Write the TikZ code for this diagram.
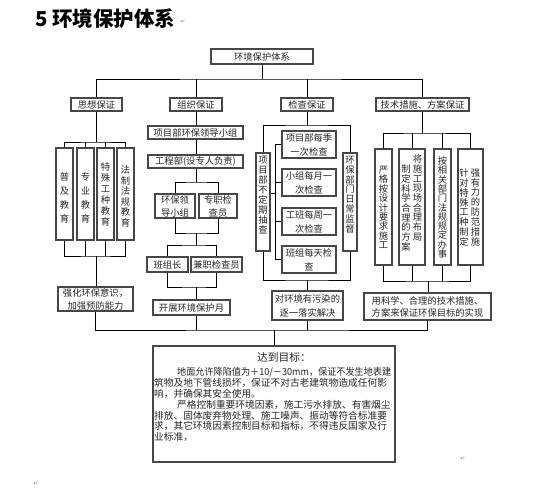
\documentclass[tikz,border=0pt]{standalone}
\usepackage{fontspec}
\usepackage{graphicx}
\setmainfont{Noto Sans CJK SC}
\newfontfamily\djv{DejaVu Sans}
\newcommand\bx[7][]{\node[box,minimum width={(#5-#3)*1pt},minimum height={(#6-#4)*1pt},#1] (#2) at ({(#3+#5)/2},{(#4+#6)/2}) {#7};}
\begin{document}
\begin{tikzpicture}[x=1pt,y=-1pt,
  box/.style={draw=black!72,line width=1.1pt,inner sep=0pt,align=center,text=black!85,font=\fontsize{9.3}{13}\selectfont},
  vt/.style={inner sep=0pt,align=center,text=black!85},
  ln/.style={line width=0.9pt,draw=black},
  pm/.style={inner sep=0pt,text=black!45,font=\djv\fontsize{6}{6}\selectfont}]
\useasboundingbox[fill=white] (0,0) rectangle (559,491);

% title
\node[anchor=base west,inner sep=0pt,font=\fontsize{20.5}{24}\selectfont\bfseries] (title) at (35,26) {5 环境保护体系};
\node[pm] (pm1) at (183,22) {↵};
\node[pm] (pm2) at (36,484) {↵};
\node[pm] (pm3) at (463,459) {↵};

% level 0 / 1
\bx{top}{211}{49}{313}{64}{环境保护体系}
\bx{c1}{71}{98}{122}{111}{思想保证}
\bx{c2}{170}{98}{222}{111}{组织保证}
\bx{c3}{281}{98}{333}{111}{检查保证}
\bx{c4}{376}{98}{469}{111}{技术措施、方案保证}

% column 1
\bx{e1}{56}{148}{73}{240}{}
\bx{e2}{77}{148}{94}{240}{}
\bx{e3}{97}{148}{114}{240}{}
\bx{e4}{117}{148}{134}{240}{}
\node[vt,font=\fontsize{9.3}{14}\selectfont] (e1t) at (64.5,198) {普\\及\\教\\育};
\node[vt,font=\fontsize{9.3}{14}\selectfont] (e2t) at (85.5,198) {专\\业\\教\\育};
\node[vt,font=\fontsize{9.3}{11}\selectfont] (e3t) at (105.5,194.5) {特\\殊\\工\\种\\教\\育};
\node[vt,font=\fontsize{9.3}{10.6}\selectfont] (e4t) at (125.5,196.5) {法\\制\\法\\规\\教\\育};
\bx{s1}{58}{287}{133}{311}{强化环保意识，\\加强预防能力}

% column 2
\bx{g1}{148}{126}{243}{139}{项目部环保领导小组}
\bx{g2}{148}{155}{243}{168}{工程部(设专人负责)}
\bx{h1}{155}{194}{195}{218}{环保领\\导小组}
\bx{h2}{199}{194}{237}{218}{专职检\\查员}
\bx{i1}{147}{257}{188}{272}{班组长}
\bx{i2}{191}{257}{242}{272}{兼职检查员}
\bx{s2}{153}{300}{230}{315}{开展环境保护月}

% column 3
\bx{L}{256}{153}{270}{251}{}
\bx{R}{343}{153}{357}{251}{}
\node[vt,font=\fontsize{9.3}{10}\selectfont] (Lt) at (263,195) {项\\目\\部\\不\\定\\期\\抽\\查};
\node[vt,font=\fontsize{9.3}{9.8}\selectfont] (Rt) at (350,194.5) {环\\保\\部\\门\\日\\常\\监\\督};
\bx[font=\fontsize{9.3}{14}\selectfont]{m1}{282}{131}{336}{158}{项目部每季\\一次检查}
\bx[font=\fontsize{9.3}{14}\selectfont]{m2}{282}{169}{336}{196}{小组每月一\\次检查}
\bx[font=\fontsize{9.3}{14}\selectfont]{m3}{282}{208}{336}{235}{工班每周一\\次检查}
\bx[font=\fontsize{9.3}{14}\selectfont]{m4}{282}{246}{336}{273}{班组每天检\\查}
\bx[font=\fontsize{9.3}{14}\selectfont]{s3}{272}{291}{343}{320}{对环境有污染的\\逐一落实解决}

% column 4
\bx{f1}{375}{149}{392}{265}{}
\bx{f2}{399}{149}{425}{265}{}
\bx{f3}{434}{149}{451}{265}{}
\bx{f4}{458}{149}{483}{265}{}
\node[vt,font=\fontsize{9.3}{9.4}\selectfont] (f1t) at (383.5,207.5) {严\\格\\按\\设\\计\\要\\求\\施\\工};
\node[vt,font=\fontsize{9.3}{9.7}\selectfont] (f2r) at (417.5,198) {将\\施\\工\\现\\场\\合\\理\\布\\局};
\node[vt,font=\fontsize{9.3}{9.7}\selectfont] (f2l) at (406,208) {制\\定\\科\\学\\合\\理\\的\\方\\案};
\node[vt,font=\fontsize{9.3}{9.3}\selectfont] (f3t) at (442.5,207.5) {按\\相\\关\\部\\门\\法\\规\\规\\定\\办\\事};
\node[vt,font=\fontsize{9.3}{9.9}\selectfont] (f4r) at (475.5,207.5) {强\\有\\力\\的\\防\\范\\措\\施};
\node[vt,font=\fontsize{9.3}{9.9}\selectfont] (f4l) at (464,207.5) {针\\对\\特\\殊\\工\\种\\制\\定};
\bx[font=\fontsize{9.3}{12}\selectfont]{s4}{364}{293}{491}{320}{用科学、合理的技术措施、\\方案来保证环保目标的实现}

% goal box
\bx[line width=1.4pt]{goal}{153}{346}{395}{462}{}
\node[vt,font=\fontsize{10.8}{12}\selectfont] (gt) at (284,357) {达到目标：};
\node[anchor=north west,inner sep=0pt,align=left,text=black!85,font=\fontsize{9.7}{10.8}\selectfont] (gb) at (154,367.5) {%
\hspace*{23pt}\scalebox{0.94}[1]{地面允许降陷值为＋10/－30mm，保证不发生地表建}\\
筑物及地下管线损坏，保证不对古老建筑物造成任何影\\
响，并确保其安全使用。\\
\hspace*{23pt}严格控制重要环境因素，施工污水排放、有害烟尘\\
排放、固体废弃物处理、施工噪声、振动等符合标准要\\
求，其它环境因素控制目标和指标，不得违反国家及行\\
业标准，};

% connectors: top
\coordinate (t0) at (262,79);
\draw[ln] (top.south) -- (t0);
\draw[ln] (c1.north) |- (t0) -| (c4.north);
\draw[ln] (c2.north) -- (c2.north |- t0);
\draw[ln] (c3.north) -- (c3.north |- t0);

% column 1
\coordinate (t1) at (96.5,142);
\draw[ln] (c1.south) -- (t1);
\draw[ln] (e1.north) |- (t1) -| (e4.north);
\draw[ln] (e2.north) -- (e2.north |- t1);
\draw[ln] (e3.north) -- (e3.north |- t1);
\coordinate (u1) at (96.5,256);
\draw[ln] (e1.south) |- (u1) -| (e4.south);
\draw[ln] (e2.south) -- (e2.south |- u1);
\draw[ln] (e3.south) -- (e3.south |- u1);
\draw[ln] (u1) -- (u1 |- s1.north);

% column 2
\draw[ln] (c2.south) -- (c2.south |- g1.north);
\draw[ln] (c2.south |- g1.south) -- (c2.south |- g2.north);
\coordinate (t2a) at (196,182);
\draw[ln] (c2.south |- g2.south) -- (t2a);
\draw[ln] (h1.north) |- (t2a) -| (h2.north);
\coordinate (u2a) at (196,233);
\draw[ln] (h1.south) |- (u2a) -| (h2.south);
\coordinate (t2b) at (196,245);
\draw[ln] (u2a) -- (t2b);
\draw[ln] (i1.north) |- (t2b) -| (i2.north);
\coordinate (u2b) at (196,287);
\draw[ln] (i1.south) |- (u2b) -| (i2.south);
\draw[ln] (u2b) -- (u2b |- s2.north);

% column 3
\coordinate (t3) at (307,125);
\draw[ln] (c3.south) -- (t3);
\draw[ln] (L.north) |- (t3) -| (R.north);
\draw[ln] (m1.west) -- ++(-6,0) coordinate (sp) |- (m4.west);
\draw[ln] (m2.west) -- (m2.west -| sp);
\draw[ln] (m3.west) -- (m3.west -| sp);
\draw[ln] ([yshift=9pt]L.east) -- ([yshift=9pt]L.east -| sp);
\coordinate (u3) at (307,280);
\draw[ln] (L.south) |- (u3) -| (R.south);
\draw[ln] (u3) -- (u3 |- s3.north);

% column 4
\coordinate (t4) at (422.5,133);
\draw[ln] (c4.south) -- (t4);
\draw[ln] (f1.north) |- (t4) -| (f4.north);
\draw[ln] (f2.north) -- (f2.north |- t4);
\draw[ln] (f3.north) -- (f3.north |- t4);
\coordinate (u4) at (428,281);
\draw[ln] (f1.south) |- (u4) -| (f4.south);
\draw[ln] (f2.south) -- (f2.south |- u4);
\draw[ln] (f3.south) -- (f3.south |- u4);
\draw[ln] (u4) -- (u4 |- s4.north);

% bottom bus
\coordinate (bb) at (274,330);
\draw[ln] (s1.south) |- (bb) -| (s4.south);
\draw[ln] (c2.south |- s2.south) -- (c2.south |- bb);
\draw[ln] (s3.south) -- (s3.south |- bb);
\draw[ln] (bb) -- (goal.north);
\end{tikzpicture}
\end{document}
